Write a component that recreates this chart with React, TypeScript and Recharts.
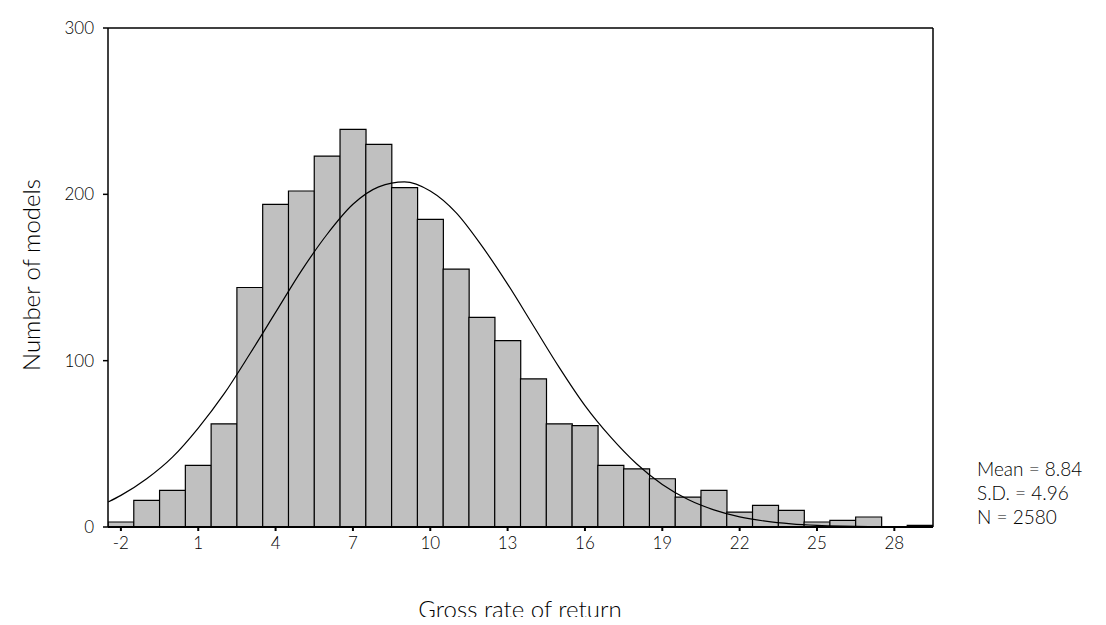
import { ComposedChart, Bar, Line, XAxis, YAxis, ReferenceLine } from "recharts"

// histogram bins (centre of each 1-wide bin) and counts
const binCentres = [-2, -1, 0, 1, 2, 3, 4, 5, 6, 7, 8, 9, 10, 11, 12, 13, 14, 15, 16, 17, 18, 19, 20, 21, 22, 23, 24, 25, 26, 27, 28, 29]
const counts = [3, 16, 22, 37, 62, 144, 194, 202, 223, 239, 230, 204, 185, 155, 126, 112, 89, 62, 61, 37, 35, 29, 18, 22, 9, 13, 10, 3, 4, 6, 0, 1]

// normal curve
const curveX = [-2.5, -2, -1, 0, 1, 2, 3, 4, 5, 6, 7, 8, 9, 10, 11, 12, 13, 14, 15, 16, 17, 18, 19, 20, 21, 22, 23, 24, 25, 26, 27, 28, 29, 29.5]
const curveY = [15, 19, 29, 42, 59.5, 80, 104, 129, 154, 176, 194, 204.5, 207.5, 202, 189, 169, 146, 121, 96, 73, 54, 38, 25.5, 16.5, 10.3, 6.1, 3.5, 1.9, 1, 0.5, 0.2, 0.1, 0, 0]

const xTicks = [-2, 1, 4, 7, 10, 13, 16, 19, 22, 25, 28]
const yTicks = [0, 100, 200, 300]

const stats = ["Mean = 8.84", "S.D. = 4.96", "N = 2580"]

const bars = binCentres.map((x, i) => ({ x, count: counts[i] }))
const curve = curveX.map((x, i) => ({ x, fit: curveY[i] }))

const FONT = "Lato, 'DejaVu Sans', sans-serif"
const tickStyle = { fill: "#000", fontSize: 17, fontFamily: FONT, fontWeight: 300 }

export default function App() {
  return (
    <div style={{ position: "relative", width: 1090, height: 609, fontFamily: FONT, fontWeight: 300 }}>
      <ComposedChart
        width={1090}
        height={609}
        data={bars}
        margin={{ top: 20, right: 165, bottom: 60, left: 40 }}
        barCategoryGap={0}
        barGap={0}
      >
        <XAxis
          dataKey="x"
          type="number"
          domain={[-2.5, 29.5]}
          ticks={xTicks}
          interval={0}
          allowDataOverflow
          height={30}
          tickSize={4}
          tickMargin={6}
          stroke="#000"
          strokeWidth={2}
          tick={tickStyle}
        />
        <XAxis xAxisId="curve" dataKey="x" type="number" domain={[-2.5, 29.5]} hide allowDataOverflow />
        <YAxis
          type="number"
          domain={[0, 300]}
          ticks={yTicks}
          interval={0}
          width={60}
          tickSize={5}
          tickMargin={9}
          stroke="#000"
          strokeWidth={1.5}
          tick={tickStyle}
        />
        <ReferenceLine y={300} stroke="#000" strokeWidth={1.5} />
        <ReferenceLine x={29.5} stroke="#000" strokeWidth={1.5} />
        <Bar dataKey="count" fill="#c0c0c0" stroke="#000" strokeWidth={1.2} isAnimationActive={false} />
        <Line
          xAxisId="curve"
          data={curve}
          dataKey="fit"
          type="monotone"
          stroke="#000"
          strokeWidth={1.2}
          dot={false}
          isAnimationActive={false}
        />
      </ComposedChart>
      <div
        style={{
          position: "absolute",
          left: 22,
          top: 267,
          transform: "translate(-50%, -50%) rotate(-90deg)",
          fontSize: 24,
          whiteSpace: "nowrap",
        }}
      >
        Number of models
      </div>
      <div
        style={{
          position: "absolute",
          left: 512,
          top: 601,
          transform: "translate(-50%, -50%)",
          fontSize: 24,
          lineHeight: "26px",
          whiteSpace: "nowrap",
        }}
      >
        Gross rate of return
      </div>
      <div style={{ position: "absolute", left: 969, top: 449, fontSize: 19, lineHeight: "24px" }}>
        {stats.map((s) => (
          <div key={s}>{s}</div>
        ))}
      </div>
    </div>
  )
}
